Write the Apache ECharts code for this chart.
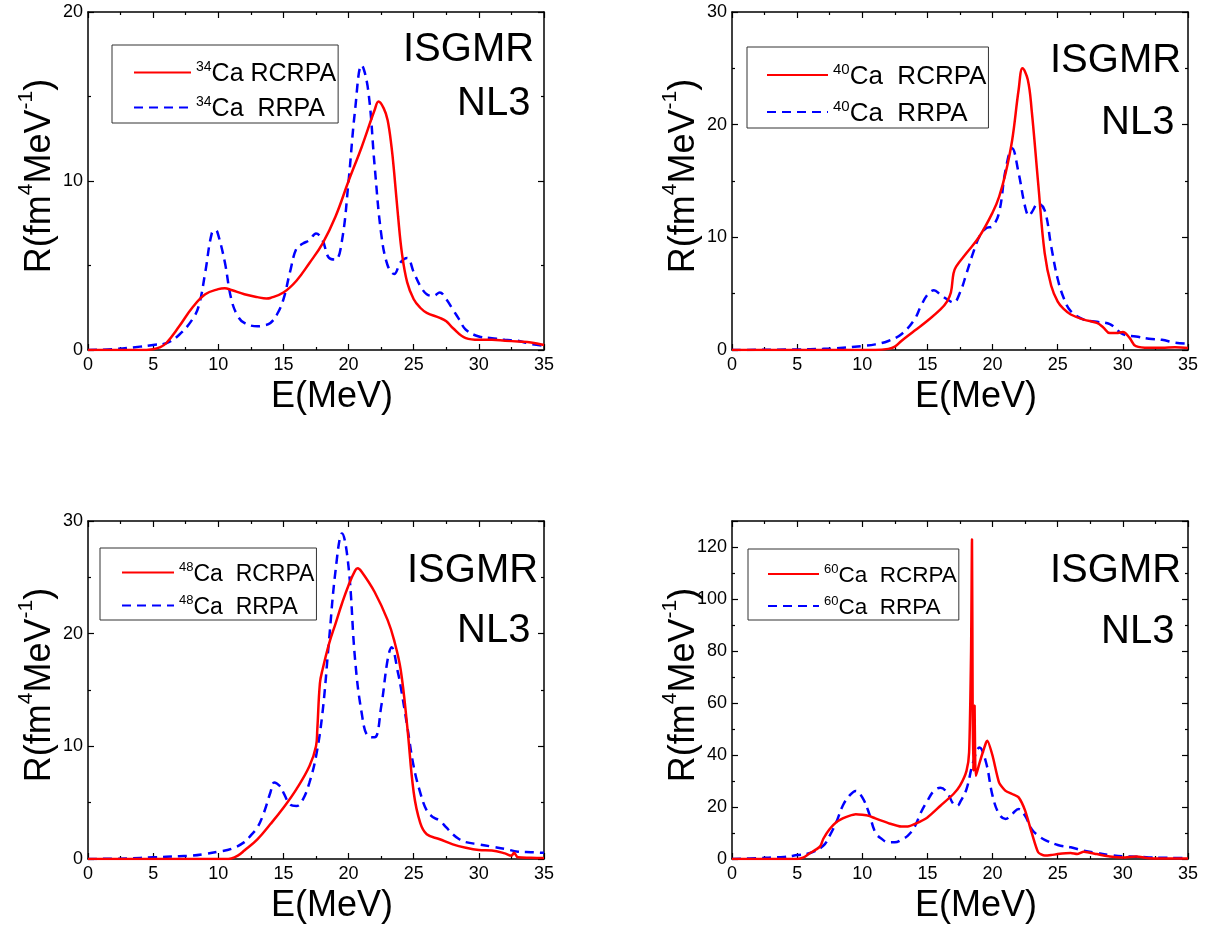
<!DOCTYPE html>
<html>
<head>
<meta charset="utf-8">
<script src="https://cdn.jsdelivr.net/npm/echarts@6/dist/echarts.min.js"></script>
<style>
  html, body { margin: 0; padding: 0; background: #fff; }
  #chart { width: 1207px; height: 930px; }
</style>
</head>
<body>
<div id="chart"></div>
<script>
// ---------------- DATA ----------------
const xTicks = [0, 5, 10, 15, 20, 25, 30, 35];

// 34Ca
const ca34_rcrpa_E = [0,2,4,5,5.5,6,7,8,9,10,10.5,11,12,13,13.7,14,15,16,17,18,19,20,21,22,22.3,22.7,23,23.3,23.5,23.8,24.1,24.5,25,25.5,26,27,27.5,28,29,30,31,32,33,34,35];
const ca34_rcrpa_R = [0,0,0,0.05,0.15,0.4,1.4,2.5,3.3,3.6,3.65,3.55,3.3,3.13,3.05,3.08,3.4,4.1,5.15,6.3,7.9,10.0,12.0,14.2,14.7,14.3,13.6,12.0,10.5,7.9,5.7,4.0,3.0,2.5,2.2,1.9,1.7,1.3,0.7,0.6,0.6,0.55,0.5,0.45,0.3];
const ca34_rrpa_E = [0,2,4,5,6,7,8,8.5,9,9.5,9.8,10,10.5,11,11.5,12,13,13.5,14,14.5,15,15.5,16,16.5,17,17.5,18,18.5,19,19.5,20,20.5,21,21.5,22,22.5,23,23.5,24,24.5,25,25.5,26,26.5,27,27.5,28,28.5,29,30,31,32,33,34,35];
const ca34_rrpa_R = [0,0.05,0.2,0.3,0.4,0.9,1.8,2.6,4.6,6.9,7.1,6.8,5.2,3.0,2.0,1.6,1.4,1.45,1.6,2.1,3.0,4.6,6.0,6.3,6.5,6.9,6.5,5.45,5.35,6.5,10.0,14.2,16.85,15.4,10.9,6.9,5.0,4.5,5.2,5.45,4.6,3.8,3.3,3.2,3.4,3.0,2.4,1.8,1.2,0.8,0.7,0.6,0.55,0.35,0.25];

// 40Ca
const ca40_rcrpa_E = [0,5,10,11,12,12.5,13,14,15,16,16.5,16.8,17,17.2,18,19,20,20.5,21,21.5,22,22.3,22.7,23,23.5,24,24.5,25,25.5,26,27,28,28.5,29,29.5,30,30.5,31,32,33,34,35];
const ca40_rcrpa_R = [0,0,0,0,0.1,0.3,0.8,1.7,2.6,3.6,4.3,5.1,6.8,7.4,8.6,10.1,12.2,13.6,15.7,18.6,23.1,25.0,24.0,21.3,14.8,8.6,5.7,4.3,3.6,3.15,2.7,2.4,2.0,1.5,1.5,1.6,1.1,0.35,0.2,0.2,0.25,0.18];
const ca40_rrpa_E = [0,5,7,8,10,11,12,13,14,14.5,15,15.5,16,16.5,17,17.5,18,18.5,19,19.5,20,20.5,21,21.5,22,22.5,22.8,23,23.5,24,24.5,25,25.5,26,27,28,29,30,31,32,33,34,35];
const ca40_rrpa_R = [0,0.05,0.1,0.15,0.35,0.5,0.8,1.4,2.7,3.9,4.9,5.3,4.9,4.5,4.2,5.1,6.8,8.6,10.1,10.8,11.0,12.2,16.0,17.9,15.7,12.7,11.9,12.2,13.0,12.4,9.2,6.3,4.5,3.45,2.7,2.5,2.3,1.4,1.2,1.0,0.9,0.65,0.55];

// 48Ca
const ca48_rcrpa_E = [0,5,10,10.5,11,11.5,12,13,14,15,16,17,17.5,17.6,17.8,18,18.5,19,19.5,20,20.5,20.7,21,22,23,23.5,24,24.5,25,25.5,26,27,28,29,30,31,32,32.5,32.7,33,34,35];
const ca48_rcrpa_R = [0,0,0,0,0.05,0.3,0.75,1.75,3.1,4.55,6.2,8.25,10.0,11.5,15.6,16.8,19.1,20.9,22.7,24.3,25.6,25.8,25.5,23.7,21.2,19.4,16.8,11.8,5.9,3.2,2.2,1.75,1.3,1.0,0.8,0.75,0.5,0.3,0.55,0.15,0.1,0.08];
const ca48_rrpa_E = [0,3,5,7,8,9,10,11,12,12.5,13,13.5,14,14.3,14.7,15,15.5,16,16.5,17,17.5,18,18.5,19,19.5,20,20.5,21,21.5,22,22.5,23,23.3,23.8,24,24.5,25,25.5,26,26.5,27,27.5,28,28.5,29,30,31,32,33,34,35];
const ca48_rrpa_R = [0,0.05,0.15,0.25,0.3,0.45,0.65,0.9,1.5,2.1,2.8,4.1,5.9,6.8,6.5,5.9,4.85,4.7,5.3,6.8,9.1,13.0,19.4,25.6,28.9,25.9,17.7,13.0,10.9,10.8,13.5,17.7,18.8,16.5,15.3,11.8,8.2,5.9,4.3,3.7,3.4,2.8,2.2,1.75,1.5,1.3,1.1,0.9,0.65,0.6,0.55];

// 60Ca
const ca60_rcrpa_E = [0,5,5.5,6,6.5,6.8,7,7.5,8,8.5,9,9.5,10,10.5,11,12,13,13.5,14,15,16,17,17.5,18,18.2,18.35,18.42,18.47,18.52,18.58,18.62,18.66,18.72,19,19.5,19.6,20,20.5,21,21.5,22,22.5,23,23.5,24,24.5,25,26,26.5,27,28,29,30,31,32,33,35];
const ca60_rcrpa_R = [0,0,0.6,2.3,3.8,5.1,7.7,11.5,14.1,15.6,16.6,17.2,17.0,16.6,15.6,13.8,12.5,12.5,13.4,16.0,20.5,25.0,28.2,33.9,41,80,123,60,34,45,59,40,32,37,44.8,45.5,39.7,29.4,26.2,25.0,23.7,18.6,10.2,2.6,1.3,1.5,1.9,2.3,1.9,2.8,1.9,1.0,0.6,1.0,0.3,0.2,0.2];
const ca60_rrpa_E = [0,2,3,4,5,6,7,7.5,8,8.5,9,9.5,10,10.5,11,11.5,12,12.5,13,13.5,14,14.5,15,15.5,16,16.5,17,17.3,17.5,18,18.5,19,19.5,20,20.5,21,21.5,22,22.5,23,23.5,24,25,26,27,28,29,30,31,32,33,34,35];
const ca60_rrpa_R = [0,0.3,0.6,0.8,1.5,2.3,5.1,9.0,14.1,20.5,24.3,26.2,23.7,17.9,10.2,7.7,6.4,6.4,7.4,9.0,12.2,17.9,22.4,26.2,27.4,25.6,21.1,20.5,21.8,26.9,37.1,42.9,37.1,24.3,17.3,15.4,17.3,19.2,16.6,11.5,9.0,7.4,5.4,4.5,3.2,2.3,1.5,1.0,0.9,0.6,0.5,0.4,0.4];

const rcrpaNames = ['34Ca RCRPA', '40Ca  RCRPA', '48Ca  RCRPA', '60Ca  RCRPA'];
const rrpaNames  = ['34Ca  RRPA', '40Ca  RRPA', '48Ca  RRPA', '60Ca  RRPA'];
const yMax = [20, 30, 30, 130];
const yInterval = [10, 10, 10, 20];
const titleLine1 = 'ISGMR';
const titleLine2 = 'NL3';
const xName = 'E(MeV)';

// ---------------- LAYOUT ----------------
const FONT = '"Liberation Sans", Arial, Helvetica, sans-serif';
const grids = [
  { left: 88,  top: 12,  width: 456, height: 338 },
  { left: 732, top: 12,  width: 456, height: 338 },
  { left: 88,  top: 521, width: 456, height: 338 },
  { left: 732, top: 521, width: 456, height: 338 }
];
const legendCfg = [
  { left: 112, top: 45, fs: 25, lh: 29, gap: 6, pad: [13, 2, 1, 21], iw: 57 },
  { left: 747, top: 47, fs: 26, lh: 30, gap: 7, pad: [13, 2, 1, 19], iw: 61 },
  { left: 100, top: 548, fs: 23, lh: 27, gap: 6, pad: [11, 2, 1, 21], iw: 52 },
  { left: 748, top: 549, fs: 22.5, lh: 26, gap: 6, pad: [12, 2, 1, 19], iw: 51 }
];
const titlePos = [
  { x1: 403, y1: 50, x2: 457, y2: 104 },
  { x1: 1050, y1: 61, x2: 1101, y2: 123 },
  { x1: 407, y1: 571, x2: 457, y2: 631 },
  { x1: 1050, y1: 571, x2: 1101, y2: 632 }
];
const smoothing = [0.4, 0.4, 0.4, 0.2];

function zip(a, b) { return a.map((v, i) => [v, b[i]]); }
const seriesData = [
  [zip(ca34_rcrpa_E, ca34_rcrpa_R), zip(ca34_rrpa_E, ca34_rrpa_R)],
  [zip(ca40_rcrpa_E, ca40_rcrpa_R), zip(ca40_rrpa_E, ca40_rrpa_R)],
  [zip(ca48_rcrpa_E, ca48_rcrpa_R), zip(ca48_rrpa_E, ca48_rrpa_R)],
  [zip(ca60_rcrpa_E, ca60_rcrpa_R), zip(ca60_rrpa_E, ca60_rrpa_R)]
];

const axisLineStyle = { color: '#000', width: 1.5 };
const tickStyle = { color: '#000', width: 1.2 };

const xAxes = [], yAxes = [], series = [], legends = [], graphics = [];

grids.forEach((g, i) => {
  xAxes.push({
    type: 'value', gridIndex: i, min: 0, max: 35, interval: 5, position: 'bottom',
    axisLine: { onZero: false, lineStyle: axisLineStyle },
    axisTick: { inside: true, length: 6, lineStyle: tickStyle },
    minorTick: { show: true, splitNumber: 2, length: 3, lineStyle: tickStyle },
    axisLabel: { fontSize: 18, color: '#000', margin: 6, fontFamily: FONT },
    splitLine: { show: false }
  });
  xAxes.push({
    type: 'value', gridIndex: i, min: 0, max: 35, interval: 5, position: 'top',
    axisLine: { onZero: false, lineStyle: axisLineStyle },
    axisTick: { inside: true, length: 6, lineStyle: tickStyle },
    minorTick: { show: true, splitNumber: 2, length: 3, lineStyle: tickStyle },
    axisLabel: { show: false },
    splitLine: { show: false }
  });
  yAxes.push({
    type: 'value', gridIndex: i, min: 0, max: yMax[i], interval: yInterval[i], position: 'left',
    axisLine: { onZero: false, lineStyle: axisLineStyle },
    axisTick: { inside: true, length: 6, lineStyle: tickStyle },
    minorTick: { show: true, splitNumber: 2, length: 3, lineStyle: tickStyle },
    axisLabel: {
      fontSize: 18, color: '#000', margin: 5, fontFamily: FONT,
      formatter: v => (v % yInterval[i] !== 0) ? '' : String(v)
    },
    splitLine: { show: false }
  });
  yAxes.push({
    type: 'value', gridIndex: i, min: 0, max: yMax[i], interval: yInterval[i], position: 'right',
    axisLine: { onZero: false, lineStyle: axisLineStyle },
    axisTick: { inside: true, length: 6, lineStyle: tickStyle },
    minorTick: { show: true, splitNumber: 2, length: 3, lineStyle: tickStyle },
    axisLabel: { show: false },
    splitLine: { show: false }
  });

  series.push({
    name: rcrpaNames[i], type: 'line', xAxisIndex: 2 * i, yAxisIndex: 2 * i,
    data: seriesData[i][0], showSymbol: false, symbol: 'none',
    smooth: smoothing[i],
    lineStyle: { color: '#ff0000', width: 2.5, type: 'solid' },
    itemStyle: { color: '#ff0000' }, z: 3, animation: false
  });
  series.push({
    name: rrpaNames[i], type: 'line', xAxisIndex: 2 * i, yAxisIndex: 2 * i,
    data: seriesData[i][1], showSymbol: false, symbol: 'none',
    smooth: 0.4,
    lineStyle: { color: '#0000ff', width: 2.5, type: [9, 6] },
    itemStyle: { color: '#0000ff' }, z: 2, animation: false
  });

  const lc = legendCfg[i];
  legends.push({
    data: [rcrpaNames[i], rrpaNames[i]],
    orient: 'vertical', left: lc.left, top: lc.top,
    borderColor: '#333', borderWidth: 1, borderRadius: 0,
    padding: lc.pad, itemGap: lc.gap, itemWidth: lc.iw, itemHeight: 14,
    selectedMode: false,
    itemStyle: { opacity: 0 },
    formatter: name => {
      const m = name.match(/^(\d+)(.*)$/);
      return '{sup|' + m[1] + '}{base|' + m[2] + '}';
    },
    textStyle: {
      fontFamily: FONT, color: '#000',
      rich: {
        sup: { fontSize: Math.round(lc.fs * 0.56), lineHeight: Math.round(lc.fs * 0.56), verticalAlign: 'top', fontFamily: FONT, color: '#000', padding: [2, 0, 0, 0] },
        base: { fontSize: lc.fs, lineHeight: lc.lh, verticalAlign: 'bottom', fontFamily: FONT, color: '#000' }
      }
    }
  });

  const tp = titlePos[i];
  graphics.push({
    type: 'text', x: tp.x1, y: tp.y1, silent: true,
    style: { text: titleLine1, font: '40px ' + FONT, fill: '#000', textAlign: 'left', textVerticalAlign: 'middle' }
  });
  graphics.push({
    type: 'text', x: tp.x2, y: tp.y2, silent: true,
    style: { text: titleLine2, font: '40px ' + FONT, fill: '#000', textAlign: 'left', textVerticalAlign: 'middle' }
  });
  graphics.push({
    type: 'text', x: g.left + g.width / 2 + 16, y: g.top + g.height + 47, silent: true,
    style: { text: xName, font: '36px ' + FONT, fill: '#000', textAlign: 'center', textVerticalAlign: 'middle' }
  });
  graphics.push({
    type: 'text', x: g.left - 51, y: g.top + g.height / 2 - 5, rotation: Math.PI / 2, silent: true,
    style: {
      text: '{b|R(fm}{s|4}{b|MeV}{s|-1}{b|)}',
      textAlign: 'center', textVerticalAlign: 'middle', fill: '#000',
      rich: {
        b: { fontSize: 36, lineHeight: 42, fontFamily: FONT, fill: '#000', verticalAlign: 'bottom' },
        s: { fontSize: 21, lineHeight: 21, fontFamily: FONT, fill: '#000', verticalAlign: 'top' }
      }
    }
  });
});

const chart = echarts.init(document.getElementById('chart'), null, { renderer: 'canvas' });
chart.setOption({
  backgroundColor: '#fff',
  animation: false,
  grid: grids.map(g => Object.assign({ containLabel: false }, g)),
  xAxis: xAxes,
  yAxis: yAxes,
  legend: legends,
  series: series,
  graphic: graphics
});
</script>
</body>
</html>
